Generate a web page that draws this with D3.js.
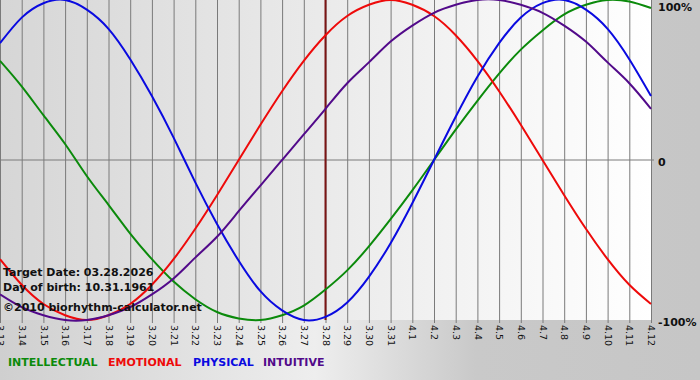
<!DOCTYPE html>
<html>
<head>
<meta charset="utf-8">
<script src="https://cdn.jsdelivr.net/npm/d3@7"></script>
<style>
  body { margin: 0; padding: 0; background: #c8c8c8; }
  svg { display: block; }
  text { font-family: "DejaVu Sans", Verdana, sans-serif; }
</style>
</head>
<body>
<div id="chart"></div>
<script>
var svgWidth = 700;
var svgHeight = 380;

// days shown on the x axis
var days = ["3.13", "3.14", "3.15", "3.16", "3.17", "3.18", "3.19", "3.20", "3.21", "3.22",
  "3.23", "3.24", "3.25", "3.26", "3.27", "3.28", "3.29", "3.30", "3.31", "4.1",
  "4.2", "4.3", "4.4", "4.5", "4.6", "4.7", "4.8", "4.9", "4.10", "4.11", "4.12"];

// cycle values in percent, one per day
var intellectual = [62, 46, 28, 10, -10, -28, -46, -62, -76, -87, -95, -99, -100, -97, -91, -81,
  -69, -54, -37, -19, 0, 19, 37, 54, 69, 81, 91, 97, 100, 99, 95];
var emotional = [-62, -78, -90, -97, -100, -97, -90, -78, -62, -43, -22, 0, 22, 43, 62, 78,
  90, 97, 100, 97, 90, 78, 62, 43, 22, 0, -22, -43, -62, -78, -90];
var physical = [73, 89, 98, 100, 94, 82, 63, 40, 14, -14, -40, -63, -82, -94, -100, -98,
  -89, -73, -52, -27, 0, 27, 52, 73, 89, 98, 100, 94, 82, 63, 40];
var intuitive = [-84, -92, -97, -100, -100, -97, -92, -84, -74, -61, -48, -32, -16, 0, 16, 32,
  48, 61, 74, 84, 92, 97, 100, 100, 97, 92, 84, 74, 61, 48, 32];

var targetDay = "3.28";
var yTicks = [100, 0, -100];
var yTickLabels = ["100%", "0", "-100%"];
var infoLines = ["Target Date: 03.28.2026", "Day of birth: 10.31.1961", "\u00a92010 biorhythm-calculator.net"];

var series = [
  { name: "INTELLECTUAL", values: intellectual, color: "#0b8a0b" },
  { name: "EMOTIONAL", values: emotional, color: "#ee0a0a" },
  { name: "PHYSICAL", values: physical, color: "#0a0ae0" },
  { name: "INTUITIVE", values: intuitive, color: "#520a8a" }
];

var plotWidth = 651;
var plotHeight = 320;

var svg = d3.select("#chart")
  .append("svg")
  .attr("width", svgWidth)
  .attr("height", svgHeight);

var defs = svg.append("defs");

var outerGrad = defs.append("linearGradient")
  .attr("id", "outerGrad")
  .attr("x1", "0%").attr("x2", "100%").attr("y1", "0%").attr("y2", "0%");
outerGrad.append("stop").attr("offset", "0%").attr("stop-color", "#cfcfcf");
outerGrad.append("stop").attr("offset", "45%").attr("stop-color", "#eeeeee");
outerGrad.append("stop").attr("offset", "68%").attr("stop-color", "#c9c9c9");
outerGrad.append("stop").attr("offset", "100%").attr("stop-color", "#c6c6c6");

var plotGrad = defs.append("linearGradient")
  .attr("id", "plotGrad")
  .attr("x1", "0%").attr("x2", "100%").attr("y1", "0%").attr("y2", "0%");
plotGrad.append("stop").attr("offset", "0%").attr("stop-color", "#d6d6d6");
plotGrad.append("stop").attr("offset", "100%").attr("stop-color", "#ffffff");

svg.append("rect")
  .attr("width", svgWidth)
  .attr("height", svgHeight)
  .attr("fill", "url(#outerGrad)");

svg.append("rect")
  .attr("x", 0)
  .attr("y", 0)
  .attr("width", plotWidth)
  .attr("height", plotHeight)
  .attr("fill", "url(#plotGrad)");

var xScale = d3.scalePoint()
  .domain(days)
  .range([0, plotWidth]);

var yScale = d3.scaleLinear()
  .domain([-100, 100])
  .range([plotHeight, 0]);

// vertical grid + rotated day labels
var xAxis = svg.append("g")
  .attr("transform", `translate(0, ${plotHeight})`)
  .call(d3.axisBottom(xScale).tickSize(-plotHeight - 3).tickSizeOuter(0).tickPadding(0));

xAxis.select(".domain").remove();
xAxis.selectAll(".tick line")
  .attr("stroke", "#7a7a7a")
  .attr("y1", 3);
xAxis.selectAll(".tick text")
  .attr("transform", "rotate(90)")
  .attr("x", 5)
  .attr("y", 0)
  .attr("dy", "0.35em")
  .attr("text-anchor", "start")
  .attr("fill", "#111")
  .style("font-size", "9.5px");

// zero line
svg.append("line")
  .attr("x1", 0)
  .attr("x2", plotWidth + 3)
  .attr("y1", yScale(0))
  .attr("y2", yScale(0))
  .attr("stroke", "#7a7a7a");

// target day marker
svg.append("line")
  .attr("x1", xScale(targetDay))
  .attr("x2", xScale(targetDay))
  .attr("y1", 0)
  .attr("y2", plotHeight)
  .attr("stroke", "#7a1414")
  .attr("stroke-width", 2);

var line = d3.line()
  .x((d, i) => xScale(days[i]))
  .y(d => yScale(d))
  .curve(d3.curveNatural);

svg.append("g")
  .selectAll("path")
  .data(series)
  .enter()
  .append("path")
  .attr("d", d => line(d.values))
  .attr("fill", "none")
  .attr("stroke", d => d.color)
  .attr("stroke-width", 2);

// right axis labels
var yAxis = svg.append("g")
  .attr("transform", `translate(${plotWidth + 3}, 2)`)
  .call(d3.axisRight(yScale).tickValues(yTicks).tickSize(0).tickPadding(4)
    .tickFormat((d, i) => yTickLabels[i]));

yAxis.select(".domain").remove();
yAxis.selectAll(".tick text")
  .attr("fill", "#111")
  .style("font-size", "11px")
  .style("font-weight", "bold");
yAxis.selectAll(".tick")
  .filter(d => d === 100)
  .attr("transform", "translate(0, 5)");

// info text
svg.append("g")
  .selectAll("text")
  .data(infoLines)
  .enter()
  .append("text")
  .attr("x", 3)
  .attr("y", (d, i) => [276, 291, 311][i])
  .attr("fill", "#111")
  .style("font-size", "11px")
  .style("font-weight", "bold")
  .text(d => d);

// legend
var legendX = [8, 108, 193, 263];
svg.append("g")
  .selectAll("text")
  .data(series)
  .enter()
  .append("text")
  .attr("x", (d, i) => legendX[i])
  .attr("y", 366)
  .attr("fill", d => d.color)
  .style("font-size", "11px")
  .style("font-weight", "bold")
  .text(d => d.name);
</script>
</body>
</html>
